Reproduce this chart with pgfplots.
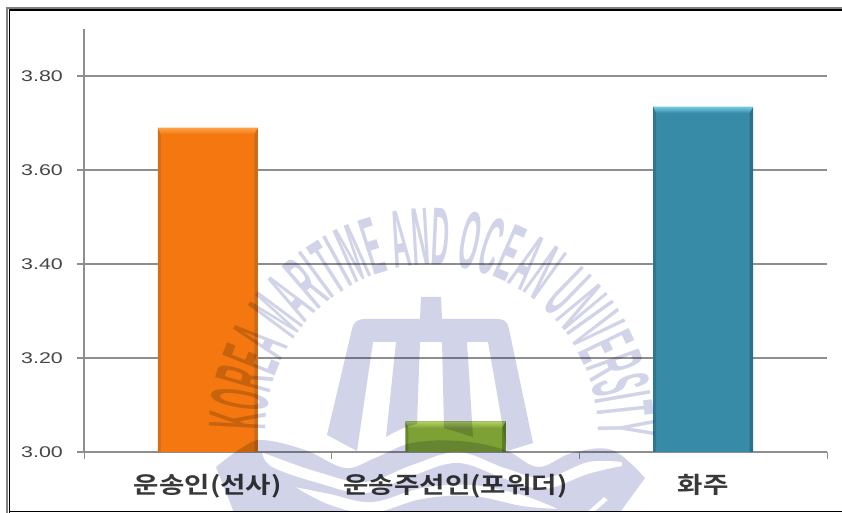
\documentclass[border=0pt]{standalone}
\usepackage{fontspec}
\usepackage{pgfplots}
\pgfplotsset{compat=1.18}
\usetikzlibrary{decorations.text}
\newfontfamily\tickfont[FakeStretch=1.38]{Liberation Sans}
\newfontfamily\catfont[FakeStretch=1.2]{Noto Sans CJK KR Bold}
\newfontfamily\sealfont[FakeStretch=0.30]{Liberation Sans Bold}
\definecolor{gridgray}{HTML}{8E8E8E}
\definecolor{seal}{HTML}{D1D4E8}
\definecolor{orangemain}{HTML}{F4780F}
\definecolor{orangetop}{HTML}{FCA24A}
\definecolor{orangeside}{HTML}{C96C1C}
\definecolor{greenmain}{HTML}{7EA136}
\definecolor{greentop}{HTML}{B2D065}
\definecolor{greenside}{HTML}{5E7D28}
\definecolor{tealmain}{HTML}{388BA6}
\definecolor{tealtop}{HTML}{78CCE2}
\definecolor{tealside}{HTML}{2B7088}
\pgfplotsset{bevel/.style={draw=none, sharp plot, mark=none}, body/.style={ybar, bar width=100pt, bar shift=0pt, draw=none}}
\begin{document}
\begin{tikzpicture}[x=1pt,y=1pt]
\path[use as bounding box] (0,0) rectangle (842,513);
\fill[white] (0,0) rectangle (842,513);
\begin{axis}[
  at={(84pt,61pt)}, anchor=south west,
  scale only axis, width=743pt, height=423pt,
  xmin=0, xmax=3, ymin=3, ymax=3.9,
  axis lines*=left,
  axis line style={-, gridgray, line width=1.2pt},
  xtick={0.5,1.5,2.5},
  xticklabels={운송인(선사),운송주선인(포워더),화주},
  minor xtick={0,1,2,3},
  major x tick style={draw=none},
  minor x tick style={gridgray, line width=1pt},
  minor tick length=7pt,
  x tick label style={font=\catfont\fontsize{23}{26}\selectfont, text=black!78, yshift=-15pt, inner sep=0pt},
  ytick={3,3.2,3.4,3.6,3.8},
  major y tick style={gridgray, line width=1.2pt},
  major tick length=7pt,
  tick align=outside,
  ymajorgrids,
  major grid style={gridgray, line width=1.2pt},
  y tick label style={font=\tickfont\fontsize{15.5}{18}\selectfont, text=black!72, inner sep=0pt, xshift=-14pt},
  /pgf/number format/assume math mode=true,
  /pgf/number format/fixed,
  /pgf/number format/fixed zerofill,
  /pgf/number format/precision=2,
]
% Bar bodies
\addplot[body, fill=orangemain] coordinates {(0.5,3.69)};
\addplot[body, fill=greenmain] coordinates {(1.5,3.065)};
\addplot[body, fill=tealmain] coordinates {(2.5,3.735)};
% Bevelled edges: left, right, top
\addplot[bevel, fill=orangeside!75!orangemain] coordinates {(0.298,3.0) (0.298,3.69) (0.310,3.678) (0.310,3.0)} -- cycle;
\addplot[bevel, fill=orangeside] coordinates {(0.702,3.0) (0.702,3.69) (0.688,3.678) (0.688,3.0)} -- cycle;
\addplot[bevel, top color=orangetop, bottom color=orangemain] coordinates {(0.298,3.69) (0.702,3.69) (0.688,3.676) (0.310,3.676)} -- cycle;
\addplot[bevel, fill=greenside!75!greenmain] coordinates {(1.298,3.0) (1.298,3.065) (1.310,3.053) (1.310,3.0)} -- cycle;
\addplot[bevel, fill=greenside] coordinates {(1.702,3.0) (1.702,3.065) (1.688,3.053) (1.688,3.0)} -- cycle;
\addplot[bevel, top color=greentop, bottom color=greenmain] coordinates {(1.298,3.065) (1.702,3.065) (1.688,3.051) (1.310,3.051)} -- cycle;
\addplot[bevel, fill=tealside!75!tealmain] coordinates {(2.298,3.0) (2.298,3.735) (2.310,3.723) (2.310,3.0)} -- cycle;
\addplot[bevel, fill=tealside] coordinates {(2.702,3.0) (2.702,3.735) (2.688,3.723) (2.688,3.0)} -- cycle;
\addplot[bevel, top color=tealtop, bottom color=tealmain] coordinates {(2.298,3.735) (2.702,3.735) (2.688,3.721) (2.310,3.721)} -- cycle;
\end{axis}
% Page frame
\draw[gray, line width=1.2pt] (7,0) -- (7,505) -- (842,505);
\draw[black, line width=1.8pt] (9.5,0) -- (9.5,503) -- (842,503);
\draw[black, line width=1.8pt] (9.5,1.5) -- (842,1.5);
% University seal printed over the page
\begin{scope}[blend mode=multiply]
  \clip (0,2.4) rectangle (842,513);
  % Name round the arch
  \path[decorate, decoration={text along path,
      text={|\sealfont\fontsize{82}{82}\selectfont\color{seal}|KOREA MARITIME AND OCEAN UNIVERSITY},
      text align=fit to path}]
    (266,82) arc[start angle=180, end angle=0, radius=166];
  \begin{scope}[y=-1pt, yshift=513pt]
    % Trident emblem, one outline
    \fill[seal] (421,297) -- (441,297) -- (442,319) -- (498,319)
      .. controls (505,319) and (508,323) .. (509,329)
      -- (533,443) -- (507,451) -- (488,342) -- (467,342) -- (473,437)
      -- (444,428) -- (442,342) -- (420,342) -- (417,424)
      .. controls (407,426) and (396,431) .. (386,437)
      -- (396,342) -- (373,342) -- (357,451) -- (327,435) -- (352,329)
      .. controls (353,323) and (357,319) .. (365,319) -- (420,319) -- cycle;
    % Lower body of the seal, with the sea cut out of it
    \fill[seal, even odd rule]
      plot[smooth, tension=0.6] coordinates {(216,467) (240,449) (262,440) (305,450) (345,468) (375,458) (412,443) (460,441) (505,450) (538,467) (572,453) (612,450) (645,478)}
      -- (618,515) -- (235,515) -- cycle
      plot[smooth, tension=0.6] coordinates {(262,452) (272,456) (318,472) (365,482) (412,465) (458,452) (505,468) (545,478) (588,462) (622,462)}
      -- plot[smooth, tension=0.6] coordinates {(622,466) (588,474) (545,489) (505,479) (458,463) (412,476) (365,493) (318,483) (272,467) (262,452)} -- cycle
      plot[smooth, tension=0.6] coordinates {(295,487) (330,494) (372,502) (422,488) (472,485) (522,495) (558,509)}
      -- plot[smooth, tension=0.6] coordinates {(558,509) (522,506) (472,496) (422,499) (372,513) (330,505) (295,487)} -- cycle
      (604,497) -- (608,500) -- (592,514) -- (587,512) -- cycle;
  \end{scope}
\end{scope}
\end{tikzpicture}
\end{document}
